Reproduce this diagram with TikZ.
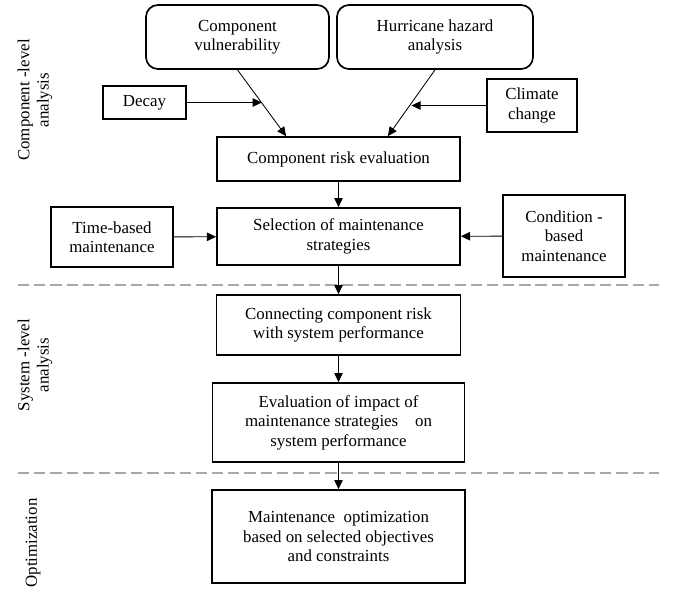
\documentclass[tikz,border=0pt]{standalone}
\usepackage{fontspec}
\setmainfont{Liberation Serif}
\usetikzlibrary{arrows.meta,positioning,calc}
\definecolor{sepgray}{HTML}{A8A8A8}

\begin{document}
\begin{tikzpicture}[x=0.025cm,y=-0.025cm,
  font=\fontsize{12}{13.8}\selectfont,
  box/.style={draw,line width=1.2pt,align=center,inner sep=0pt},
  rbox/.style={box,rounded corners=0.3cm},
  flow/.style={-{Triangle[length=6.5pt,width=6pt]},line width=0.6pt},
  sep/.style={sepgray,line width=1.2pt,dash pattern=on 8pt off 3.5pt}]
\useasboundingbox (0,0) rectangle (676,594);

% Level separators
\foreach \y in {285,473} {
  \draw[sep] (18,\y) -- (659,\y);
}

% Level labels
\node[rotate=90,align=center] (lvlcomp) at (35,100) {Component -level\\analysis};
\node[rotate=90,align=center] (lvlsys) at (35,365) {System -level\\analysis};
\node[rotate=90] (lvlopt) at (33,543) {Optimization};

% Component level
\node[rbox,minimum width=4.575cm,minimum height=1.6cm] (vuln) at (237.5,37) {Component\\vulnerability};
\node[rbox,minimum width=4.9cm,minimum height=1.6cm] (hazard) at (435,37) {Hurricane hazard\\analysis};
\node[box,minimum width=2.075cm,minimum height=0.825cm] (decay) at (144.5,102.5) {Decay};
\node[box,minimum width=2.25cm,minimum height=1.325cm] (climate) at (532,105.5) {Climate\\change};
\node[box,minimum width=6.075cm,minimum height=1.1cm] (risk) at (338.5,159) {Component risk evaluation};
\node[box,minimum width=3.05cm,minimum height=1.5cm] (tbm) at (112,237) {Time-based\\maintenance};
\node[box,minimum width=6.075cm,minimum height=1.425cm] (sel) at (338.5,236.5) {Selection of maintenance\\strategies};
\node[box,minimum width=3.05cm,minimum height=2.05cm] (cbm) at (564,236) {Condition -\\based\\maintenance};

% System level
\node[box,minimum width=6.1cm,minimum height=1.5cm] (con) at (338.5,325) {Connecting component risk\\with system performance};
\node[box,minimum width=6.3cm,minimum height=1.975cm] (eva) at (338.5,422.5) {Evaluation of impact of\\maintenance strategies \ \ \ on\\system performance};

% Optimization
\node[box,minimum width=6.325cm,minimum height=2.325cm] (opt) at (338.5,536.5) {Maintenance \ optimization\\based on selected objectives\\and constraints};

% Inputs to risk evaluation
\coordinate (riskl) at ($(risk.north west)+(70,0)$);
\coordinate (riskr) at ($(risk.north east)+(-73,0)$);
\coordinate (vmid) at ($(vuln.south)!0.5!(riskl)$);
\coordinate (hmid) at ($(hazard.south)!0.5!(riskr)$);
\draw[flow] (vuln.south) -- (riskl);
\draw[flow] (hazard.south) -- (riskr);
\draw[flow] (decay.east) -- (decay.east -| vmid);
\draw[flow] (climate.west) -- (climate.west -| hmid);

% Main flow
\foreach \a/\b in {risk/sel,sel/con,con/eva,eva/opt} {
  \draw[flow] (\a) -- (\b);
}
\draw[flow] (tbm) -- (sel);
\draw[flow] (cbm) -- (sel);
\end{tikzpicture}
\end{document}
